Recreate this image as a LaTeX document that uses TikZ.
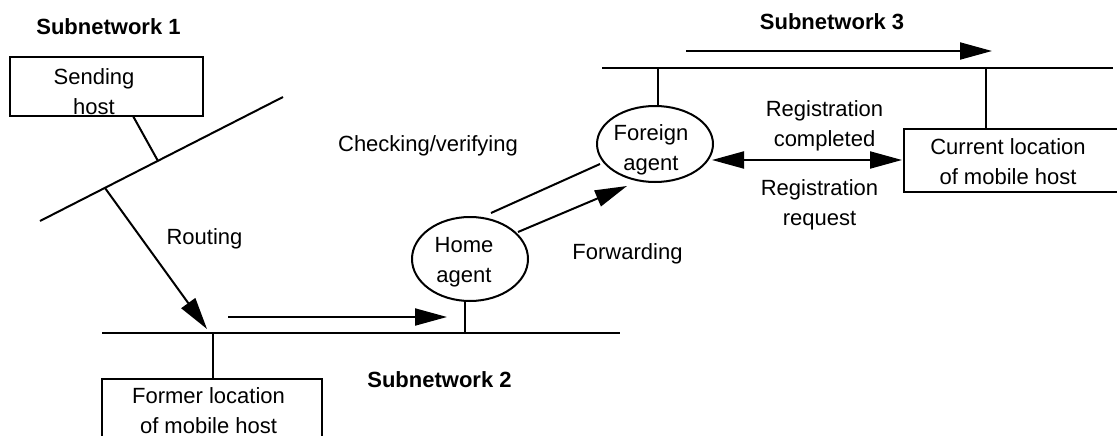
\documentclass[tikz,border=0pt]{standalone}
\usepackage{fontspec}
\setmainfont{Liberation Sans}
\usetikzlibrary{arrows.meta,shapes.geometric}
\tikzset{
  txt/.style={font=\fontsize{22}{30}\selectfont, inner sep=0pt, align=center},
  lbl/.style={font=\fontsize{22}{30}\selectfont\bfseries, inner sep=0pt},
  hostbox/.style={draw, line width=2pt, inner sep=0pt},
  agent/.style={draw, ellipse, line width=2pt, inner sep=0pt},
  wire/.style={line width=2pt},
  flow/.style={line width=2pt, -{Triangle[length=32pt,width=17pt]}},
  flow2/.style={line width=2pt, {Triangle[length=32pt,width=17pt]}-{Triangle[length=32pt,width=17pt]}}
}
\begin{document}
\begin{tikzpicture}[x=1pt,y=-1pt]
\useasboundingbox (0,0) rectangle (1117,436);
\clip (0,0) rectangle (1117,436);
% Subnetwork 1
\node[lbl, anchor=base] (sub1) at (108.5,35) {Subnetwork 1};
\node[hostbox, minimum width=193pt, minimum height=59pt] (send) at (106.5,86.5) {};
\node[txt] (sendT) at (94,91.4) {Sending\\host};
\coordinate (s1a) at (40,221);
\coordinate (s1b) at (283,97);
\draw[wire] (s1a) -- (s1b);
\coordinate (sendC) at (133,116);
\coordinate (s1tap) at (158,161);
\draw[wire] (sendC) -- (s1tap);
\coordinate (routeA) at (105,188);
\coordinate (routeB) at (207,329);
\draw[flow] (routeA) -- (routeB);
\node[txt, anchor=base] (routing) at (204.5,244) {Routing};
% Subnetwork 2
\coordinate (s2a) at (102,333);
\coordinate (s2b) at (620,333);
\draw[wire] (s2a) -- (s2b);
\coordinate (s2fA) at (228,317);
\coordinate (s2fB) at (447,317);
\draw[flow] (s2fA) -- (s2fB);
\node[hostbox, minimum width=220pt, minimum height=71pt] (former) at (212,414.5) {};
\node[txt] (formerT) at (208.5,410.5) {Former location\\of mobile host};
\coordinate (s2tapF) at (213,333);
\draw[wire] (s2tapF) -- (former.north -| s2tapF);
\node[lbl, anchor=base] (sub2) at (439.5,387) {Subnetwork 2};
\node[agent, minimum width=116pt, minimum height=84pt] (home) at (470,259) {};
\node[txt] (homeT) at (464,262) {Home\\agent};
\coordinate (homeC) at (465,301);
\coordinate (s2tapH) at (465,333);
\draw[wire] (homeC) -- (s2tapH);
% Forwarding / checking
\node[agent, minimum width=116pt, minimum height=76pt] (foreign) at (655,144) {};
\node[txt] (foreignT) at (651,149.5) {Foreign\\agent};
\coordinate (chkA) at (491,213);
\coordinate (chkB) at (600,164);
\draw[wire] (chkA) -- (chkB);
\coordinate (fwdA) at (518,232);
\coordinate (fwdB) at (627,186);
\draw[flow] (fwdA) -- (fwdB);
\node[txt, anchor=base] (checking) at (428,151) {Checking/verifying};
\node[txt, anchor=base] (forwarding) at (627.5,259) {Forwarding};
% Subnetwork 3
\node[lbl, anchor=base] (sub3) at (832,30) {Subnetwork 3};
\coordinate (s3a) at (602,68);
\coordinate (s3b) at (1113,68);
\draw[wire] (s3a) -- (s3b);
\coordinate (s3fA) at (686,51);
\coordinate (s3fB) at (992,51);
\draw[flow] (s3fA) -- (s3fB);
\coordinate (s3tapF) at (658,68);
\draw[wire] (s3tapF) -- (foreign.north -| s3tapF);
\node[hostbox, minimum width=226pt, minimum height=63pt] (current) at (1017,160.5) {};
\node[txt] (currentT) at (1008,162) {Current location\\of mobile host};
\coordinate (s3tapC) at (986,68);
\draw[wire] (s3tapC) -- (current.north -| s3tapC);
\coordinate (regA) at (712,160);
\coordinate (regB) at (902,160);
\draw[flow2] (regA) -- (regB);
\node[txt] (regC) at (824.5,126) {Registration\\completed};
\node[txt] (regR) at (819.5,204.5) {Registration\\request};
\end{tikzpicture}
\end{document}
